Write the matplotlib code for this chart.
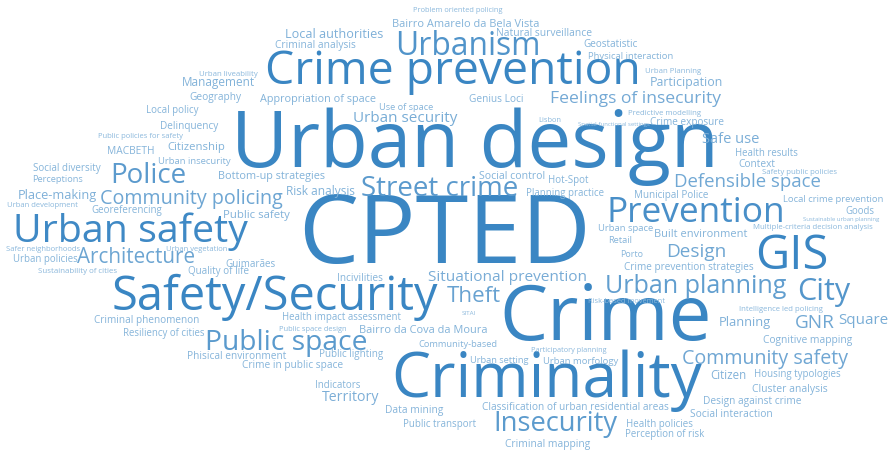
import matplotlib
matplotlib.use("Agg")
import matplotlib.pyplot as plt
import numpy as np
from matplotlib.colors import to_rgb

# ---- data: keywords and their weight (font size in points) ----
words = [
    "Problem oriented policing", "Bairro Amarelo da Bela Vista", "Local authorities",
    "Criminal analysis", "Natural surveillance", "Urbanism", "Geostatistic",
    "Physical interaction", "Urban liveability", "Crime prevention", "Urban Planning",
    "Management", "Participation", "Geography", "Appropriation of space", "Genius Loci",
    "Feelings of insecurity", "Local policy", "Use of space", "Lisbon",
    "Predictive modelling", "Delinquency", "Urban security", "Spatial-functional settings",
    "Crime exposure", "Public policies for safety", "Safe use", "Citizenship",
    "Health results", "MACBETH", "Urban insecurity", "Urban design", "Context",
    "Social diversity", "Police", "Safety public policies", "Perceptions",
    "Bottom-up strategies", "Social control", "Hot-Spot", "Defensible space",
    "Municipal Police", "Local crime prevention", "Place-making", "Community policing",
    "Risk analysis", "Street crime", "Planning practice", "Urban development",
    "Georeferencing", "Public safety", "Prevention", "Goods", "Sustainable urban planning",
    "Urban safety", "CPTED", "Urban space", "Built environment",
    "Multiple-criteria decision analysis", "Safer neighborhoods", "Urban vegetation",
    "Retail", "Design", "GIS", "Urban policies", "Architecture", "Guimarães", "Porto",
    "Sustainability of cities", "Quality of life", "Crime prevention strategies",
    "Incivilities", "Situational prevention", "Safety/Security", "Theft",
    "Urban planning", "City", "Risk-based movement", "Criminal phenomenon",
    "Health impact assessment", "SITAI", "Crime", "Intelligence led policing",
    "Planning", "GNR", "Square", "Resiliency of cities", "Public space design",
    "Bairro da Cova da Moura", "Public space", "Community-based",
    "Participatory planning", "Cognitive mapping", "Phisical environment",
    "Public lighting", "Urban setting", "Urban morfology", "Community safety",
    "Crime in public space", "Criminality", "Citizen", "Housing typologies",
    "Cluster analysis", "Indicators", "Territory", "Design against crime", "Data mining",
    "Classification of urban residential areas", "Social interaction", "Insecurity",
    "Public transport", "Health policies", "Perception of risk", "Criminal mapping",
]

weights = [
    5.4, 7.9, 9.1, 7.4, 7.4, 22.9, 7.2, 6.8, 5.6, 33.3,
    5.6, 8.5, 8.9, 7.3, 7.8, 7.3, 12.6, 7.0, 6.7, 5.4,
    5.6, 7.2, 11.0, 4.3, 7.2, 5.5, 10.5, 8.1, 6.9, 7.4,
    6.8, 56.3, 7.3, 7.1, 20.0, 5.6, 6.7, 7.8, 7.6, 7.0,
    13.4, 7.1, 6.8, 9.2, 14.2, 8.6, 20.0, 6.9, 5.5, 7.0,
    8.2, 25.4, 6.9, 4.3, 28.4, 68.7, 6.8, 7.9, 5.6, 5.5,
    5.5, 6.7, 13.7, 33.8, 6.9, 14.9, 7.1, 6.5, 5.7, 7.1,
    7.2, 7.2, 11.1, 33.8, 16.1, 18.1, 22.0, 5.4, 7.2, 6.9,
    4.5, 55.1, 5.6, 9.3, 13.7, 10.9, 6.9, 5.4, 7.9, 20.3,
    6.7, 5.3, 7.4, 7.3, 7.1, 6.7, 6.8, 14.1, 7.3, 44.7,
    8.3, 7.0, 7.5, 7.0, 10.2, 7.3, 7.4, 7.3, 7.4, 19.7,
    7.0, 7.0, 6.9, 7.4,
]

# ---- layout: centre x and baseline y of each word on the 893x454 canvas ----
layout = [
    (458, 12), (465.5, 27), (334.5, 38), (315, 48), (544.5, 36),
    (467.5, 55), (611, 47), (630.5, 59), (228.5, 76), (452.5, 84),
    (673, 73), (218.5, 86), (686.5, 86), (215, 100), (317.5, 102),
    (496, 102), (635, 103), (172, 113), (406.5, 110), (549.5, 122),
    (665, 115), (189, 129), (405, 122), (613.5, 126), (687, 125),
    (141, 138), (730.5, 143), (196.5, 150), (766, 156), (131, 154),
    (194.5, 164), (475, 167), (756.5, 167), (67, 171), (148, 183),
    (799.5, 174), (57.5, 182), (272, 179), (512, 179), (568, 183),
    (747.5, 187), (671, 198), (833, 202), (57.5, 199), (191.5, 204),
    (320.5, 195), (439.5, 196), (564.5, 196), (42.5, 207), (127, 213),
    (256.5, 218), (696, 222), (859.5, 214), (841.5, 221), (130.5, 242),
    (444, 263), (625.5, 231), (701, 237), (812.5, 229), (43, 251),
    (197, 251), (620, 243), (696, 257), (791.5, 269), (45, 262),
    (136, 263), (251, 267), (631.5, 257), (77.5, 273), (218.5, 274),
    (689, 270), (359.5, 281), (507, 281), (274.5, 310), (474, 302),
    (696, 293), (823.5, 300), (626.5, 303), (146.5, 323), (341.5, 320),
    (468.5, 315), (606, 340), (780.5, 311), (745, 326), (815, 328),
    (863, 324), (164, 336), (313, 331), (423, 333), (286, 350),
    (457.5, 347), (569, 352), (807.5, 343), (236.5, 359), (351, 357),
    (499.5, 363), (580.5, 364), (765.5, 364), (292.5, 368), (547, 397),
    (728, 379), (797, 377), (789.5, 392), (337.5, 388), (350.5, 401),
    (752, 404), (414, 413), (575, 410), (731, 417), (555, 431),
    (440, 427), (660, 427), (665, 437), (547.5, 447),
]

fig = plt.figure(figsize=(8.93, 4.54), dpi=100)
ax = fig.add_axes([0, 0, 1, 1])
ax.set_xlim(0, 893)
ax.set_ylim(454, 0)
ax.axis("off")

base = np.array(to_rgb("#3a86c3"))
white = np.ones(3)
for w, fs, (xc, yb) in zip(words, weights, layout):
    k = np.clip((fs - 5) / 25, 0, 1)
    mix = 0.42 * (1 - k)
    col = tuple(base * (1 - mix) + white * mix)
    # smaller words are drawn on top so they stay legible
    ax.text(xc, yb, w, fontsize=fs, family="Open Sans", ha="center",
            va="baseline", color=col, zorder=100 - fs)

fig.savefig("out.png", dpi=100)
